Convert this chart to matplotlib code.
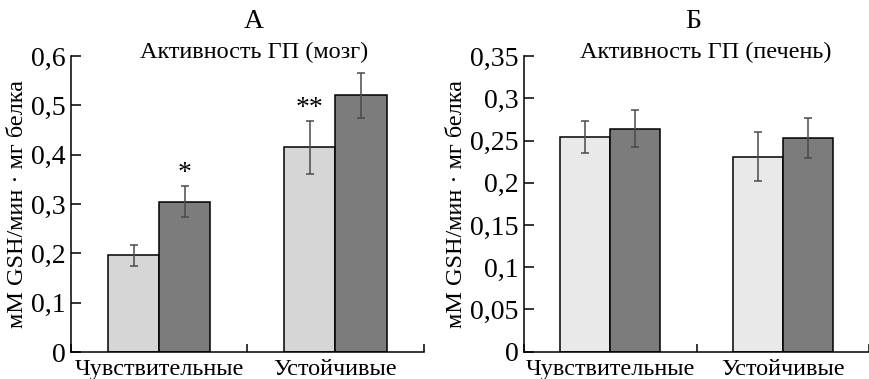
import matplotlib
matplotlib.use('Agg')
import matplotlib.pyplot as plt
import numpy as np

plt.rcParams['font.family'] = ['Liberation Serif', 'DejaVu Serif']

# data
categories = ['Чувствительные', 'Устойчивые']
ylabel = 'мМ GSH/мин · мг белка'

brain_light = [0.196, 0.415]
brain_light_err = [0.021, 0.054]
brain_dark = [0.305, 0.520]
brain_dark_err = [0.031, 0.046]
brain_stars = ['', '**']       # over light bars
brain_stars_dark = ['*', '']   # over dark bars

liver_light = [0.254, 0.231]
liver_light_err = [0.019, 0.029]
liver_dark = [0.264, 0.253]
liver_dark_err = [0.022, 0.024]

fig = plt.figure(figsize=(8.7, 3.79), dpi=100)
axA = fig.add_axes([0.0816, 0.0712, 0.4053, 0.781])
axB = fig.add_axes([0.6026, 0.0720, 0.3964, 0.780])

light_a = '#d6d6d6'
light_b = '#e9e9e9'
dark = '#7c7c7c'
err_col = '#4a4a4a'
w = 0.29
x = np.array([0.5, 1.5])


def draw_panel(ax, light, light_err, dk, dk_err, light_col, ymax, yticks, ylabels):
    ax.bar(x - w/2, light, w, color=light_col, edgecolor='black', linewidth=1.1, zorder=2)
    ax.bar(x + w/2, dk, w, color=dark, edgecolor='black', linewidth=1.1, zorder=2)
    ax.errorbar(x - w/2, light, yerr=light_err, fmt='none', ecolor=err_col,
                elinewidth=1.1, capsize=3, capthick=1.1, zorder=3)
    ax.errorbar(x + w/2, dk, yerr=dk_err, fmt='none', ecolor=err_col,
                elinewidth=1.1, capsize=3, capthick=1.1, zorder=3)
    ax.set_xlim(0, 2)
    ax.set_ylim(0, ymax)
    ax.spines['top'].set_visible(False)
    ax.spines['right'].set_visible(False)
    ax.spines['left'].set_linewidth(1.1)
    ax.spines['bottom'].set_linewidth(1.1)
    # category boundaries as ticks, labels in the middle
    ax.set_xticks([0, 1, 2])
    ax.set_xticklabels([])
    ax.set_xticks(x, minor=True)
    ax.set_xticklabels(categories, minor=True, fontsize=17.5)
    ax.tick_params(axis='x', which='major', direction='in', length=6, width=1.1)
    ax.tick_params(axis='x', which='minor', length=0, pad=5)
    ax.set_yticks(yticks)
    ax.set_yticklabels(ylabels, fontsize=20)
    ax.tick_params(axis='y', direction='in', length=7, width=1.1, pad=4)
    ax.set_ylabel(ylabel, fontsize=17.5, labelpad=2)


draw_panel(axA, brain_light, brain_light_err, brain_dark, brain_dark_err, light_a,
           0.6, np.arange(0, 0.61, 0.1), ['0', '0,1', '0,2', '0,3', '0,4', '0,5', '0,6'])
draw_panel(axB, liver_light, liver_light_err, liver_dark, liver_dark_err, light_b,
           0.35, np.arange(0, 0.351, 0.05),
           ['0', '0,05', '0,1', '0,15', '0,2', '0,25', '0,3', '0,35'])

# significance marks
for i in range(2):
    if brain_stars[i]:
        axA.text(x[i] - w/2, brain_light[i] + brain_light_err[i], brain_stars[i],
                 ha='center', va='bottom', fontsize=20)
    if brain_stars_dark[i]:
        axA.text(x[i] + w/2, brain_dark[i] + brain_dark_err[i], brain_stars_dark[i],
                 ha='center', va='bottom', fontsize=20)

# panel titles
axA.text(0.518, 1.118, 'А', transform=axA.transAxes, ha='center', va='center', fontsize=20)
axA.text(0.518, 1.013, 'Активность ГП (мозг)', transform=axA.transAxes,
         ha='center', va='center', fontsize=17.5)
axB.text(0.49, 1.118, 'Б', transform=axB.transAxes, ha='center', va='center', fontsize=20)
axB.text(0.526, 1.013, 'Активность ГП (печень)', transform=axB.transAxes,
         ha='center', va='center', fontsize=17.5)

fig.savefig('out.png', dpi=100)
